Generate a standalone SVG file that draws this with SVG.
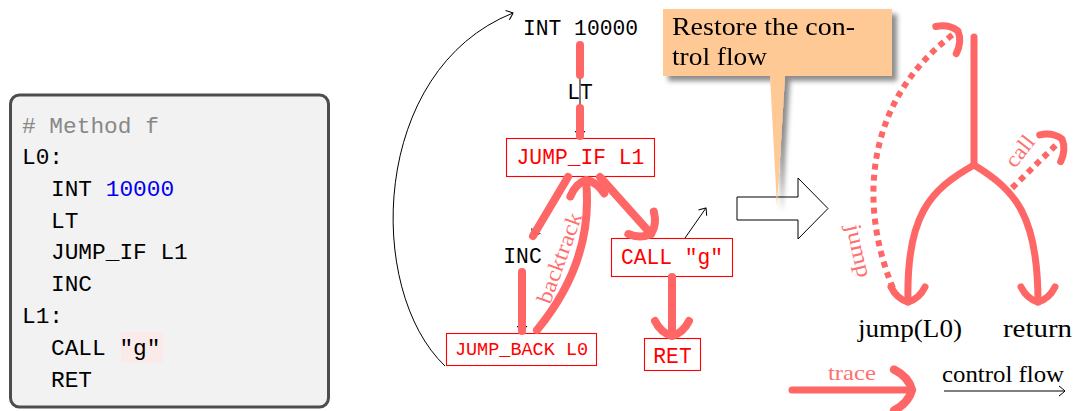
<svg xmlns="http://www.w3.org/2000/svg" xmlns:xlink="http://www.w3.org/1999/xlink" width="1078" height="411" viewBox="0 0 1078 411">
<style>
.mono{font-family:"Liberation Mono","DejaVu Sans Mono",monospace}
.serif{font-family:"Liberation Serif","DejaVu Serif",serif}
.code{font-size:22.8px;fill:#000}
.node{font-size:21.3px}
.rbox{fill:#fff;stroke:#ff0000;stroke-width:1.1}
.rtxt{fill:#ff0000}
.trace{fill:none;stroke:#ff6666;stroke-width:8;stroke-linecap:round;stroke-linejoin:round}
.flow{fill:none;stroke:#ff6666;stroke-width:7;stroke-linecap:round;stroke-linejoin:round}
.dot{fill:none;stroke:#ff6666;stroke-width:6;stroke-dasharray:6 5}
.thin{fill:none;stroke:#000;stroke-width:1}
.lbl{fill:#ff7070;font-size:22px}
</style>
<defs>
<path id="ah" d="M-15,-17 Q-3,-11 0,0 Q-3,11 -15,17"/>
<marker id="bk" markerUnits="userSpaceOnUse" markerWidth="14" markerHeight="14" viewBox="-8 -7 10 14" refX="0" refY="0" orient="auto">
<path d="M-6,-5 Q-1.5,-1.5 0,0 Q-1.5,1.5 -6,5" fill="none" stroke="#000" stroke-width="1"/>
</marker>
<filter id="sh" x="-10%" y="-10%" width="130%" height="130%">
<feGaussianBlur in="SourceAlpha" stdDeviation="2.5"/>
<feOffset dx="5" dy="5" result="b"/>
<feFlood flood-color="#000" flood-opacity="0.45"/>
<feComposite in2="b" operator="in"/>
<feMerge><feMergeNode/><feMergeNode in="SourceGraphic"/></feMerge>
</filter>
</defs>

<g id="code">
<rect x="10.5" y="95" width="318" height="312" rx="9" fill="#f2f2f2" stroke="#4d4d4d" stroke-width="3"/>
<rect x="121" y="332" width="42" height="31" fill="#fbeaea"/>
<g class="mono code">
<text x="22" y="133" fill="#888">#<tspan> Method f</tspan></text>
<text x="22" y="164">L0:</text>
<text x="51" y="196">INT <tspan fill="#0000ee">10000</tspan></text>
<text x="51" y="228">LT</text>
<text x="51" y="259">JUMP_IF L1</text>
<text x="51" y="291">INC</text>
<text x="22" y="323">L1:</text>
<text x="51" y="355">CALL "g"</text>
<text x="51" y="387">RET</text>
</g>
</g>

<g id="n-int"><text class="mono node" x="580.5" y="35" text-anchor="middle">INT 10000</text></g>
<g id="n-lt"><text class="mono node" x="580" y="99" text-anchor="middle">LT</text></g>
<g id="n-jumpif"><rect class="rbox" x="506.5" y="138.5" width="148" height="38"/><text class="mono node rtxt" x="580.5" y="164" text-anchor="middle">JUMP_IF L1</text></g>
<g id="n-inc"><text class="mono node" x="522.5" y="263" text-anchor="middle">INC</text></g>
<g id="n-jumpback"><rect class="rbox" x="446.5" y="333.5" width="150" height="32"/><text class="mono rtxt" font-size="18.5" x="521.5" y="355" text-anchor="middle">JUMP_BACK L0</text></g>
<g id="n-call"><rect class="rbox" x="611.5" y="238.5" width="121" height="38"/><text class="mono node rtxt" x="672" y="264" text-anchor="middle">CALL "g"</text></g>
<g id="n-ret"><rect class="rbox" x="644.5" y="338.5" width="56" height="32"/><text class="mono node rtxt" x="672.5" y="363" text-anchor="middle">RET</text></g>

<g id="connectors">
<path class="thin" d="M580,45 V137" marker-end="url(#bk)"/>
<path class="thin" d="M568,177 L533,236" marker-end="url(#bk)"/>
<path class="thin" d="M522,272 V332" marker-end="url(#bk)"/>
<path class="thin" d="M600,177 L652,237" marker-end="url(#bk)"/>
<path class="thin" d="M685,238 L706,208" marker-end="url(#bk)"/>
<path class="thin" d="M445,366 C365,290 370,70 513,13" marker-end="url(#bk)"/>
<path class="trace" d="M580,45 V75"/>
<path class="trace" d="M580,108 V136"/>
<path class="trace" d="M568,177 L533,236"/>
<path class="trace" d="M522,272 V331"/>
<path class="trace" d="M600,177 L651,234"/>
<use href="#ah" class="trace" transform="translate(651,234) rotate(48.5)"/>
<path class="trace" d="M672,277 V336"/>
<use href="#ah" class="trace" transform="translate(672,336) rotate(90)"/>
<path class="trace" d="M537,330 C570,290 592,240 586,181"/>
<use href="#ah" class="trace" transform="translate(586,180) rotate(-95)"/>
<text class="serif lbl" transform="translate(550,305) rotate(-70)" textLength="95" lengthAdjust="spacingAndGlyphs">backtrack</text>
</g>

<g id="arrow-block">
<polygon points="737,197 798,197 798,178 828,208.5 798,239 798,220 737,220" fill="#fff" stroke="#000" stroke-width="1"/>
</g>

<g id="callout" filter="url(#sh)">
<path d="M663,9 H892 V76 H785 L777,207 L770,76 H663 Z" fill="#ffc996"/>
<text class="serif" font-size="25" fill="#000" x="672" y="35" textLength="183" lengthAdjust="spacingAndGlyphs">Restore the con-</text>
<text class="serif" font-size="25" fill="#000" x="672" y="65" textLength="95" lengthAdjust="spacingAndGlyphs">trol flow</text>
</g>

<g id="cf-connectors">
<path class="flow" d="M974,37 V165"/>
<path class="flow" d="M974,165 C930,190 906,215 908,302"/>
<use href="#ah" class="flow" transform="translate(908,302) rotate(90)"/>
<path class="flow" d="M974,165 C1015,190 1038,215 1038,302"/>
<use href="#ah" class="flow" transform="translate(1038,302) rotate(90)"/>
<path class="dot" d="M893,288 C862,215 858,105 955,33"/>
<use href="#ah" class="flow" stroke-width="6.5" transform="translate(958,31) rotate(-37)"/>
<path class="dot" d="M1012,188 L1058,143"/>
<use href="#ah" class="flow" stroke-width="6.5" transform="translate(1062,139) rotate(-38)"/>
<text class="serif lbl" transform="translate(846,226) rotate(77)" textLength="54" lengthAdjust="spacingAndGlyphs">jump</text>
<text class="serif lbl" transform="translate(1015,169) rotate(-52)" textLength="34" lengthAdjust="spacingAndGlyphs">call</text>
</g>

<g id="cf-labels">
<text class="serif" font-size="25" fill="#000" x="858" y="337" textLength="104" lengthAdjust="spacingAndGlyphs">jump(L0)</text>
<text class="serif" font-size="25" fill="#000" x="1003" y="337" textLength="69" lengthAdjust="spacingAndGlyphs">return</text>
</g>

<g id="legend">
<path class="flow" stroke-width="9" d="M792,390 H911"/>
<use href="#ah" class="flow" stroke-width="7.5" transform="translate(912,390) scale(1.2)"/>
<text class="serif lbl" x="828" y="380" textLength="48" lengthAdjust="spacingAndGlyphs">trace</text>
<text class="serif" font-size="23" fill="#000" x="942" y="382" textLength="122" lengthAdjust="spacingAndGlyphs">control flow</text>
<path class="thin" d="M944,391 H1065" marker-end="url(#bk)"/>
</g>
</svg>
